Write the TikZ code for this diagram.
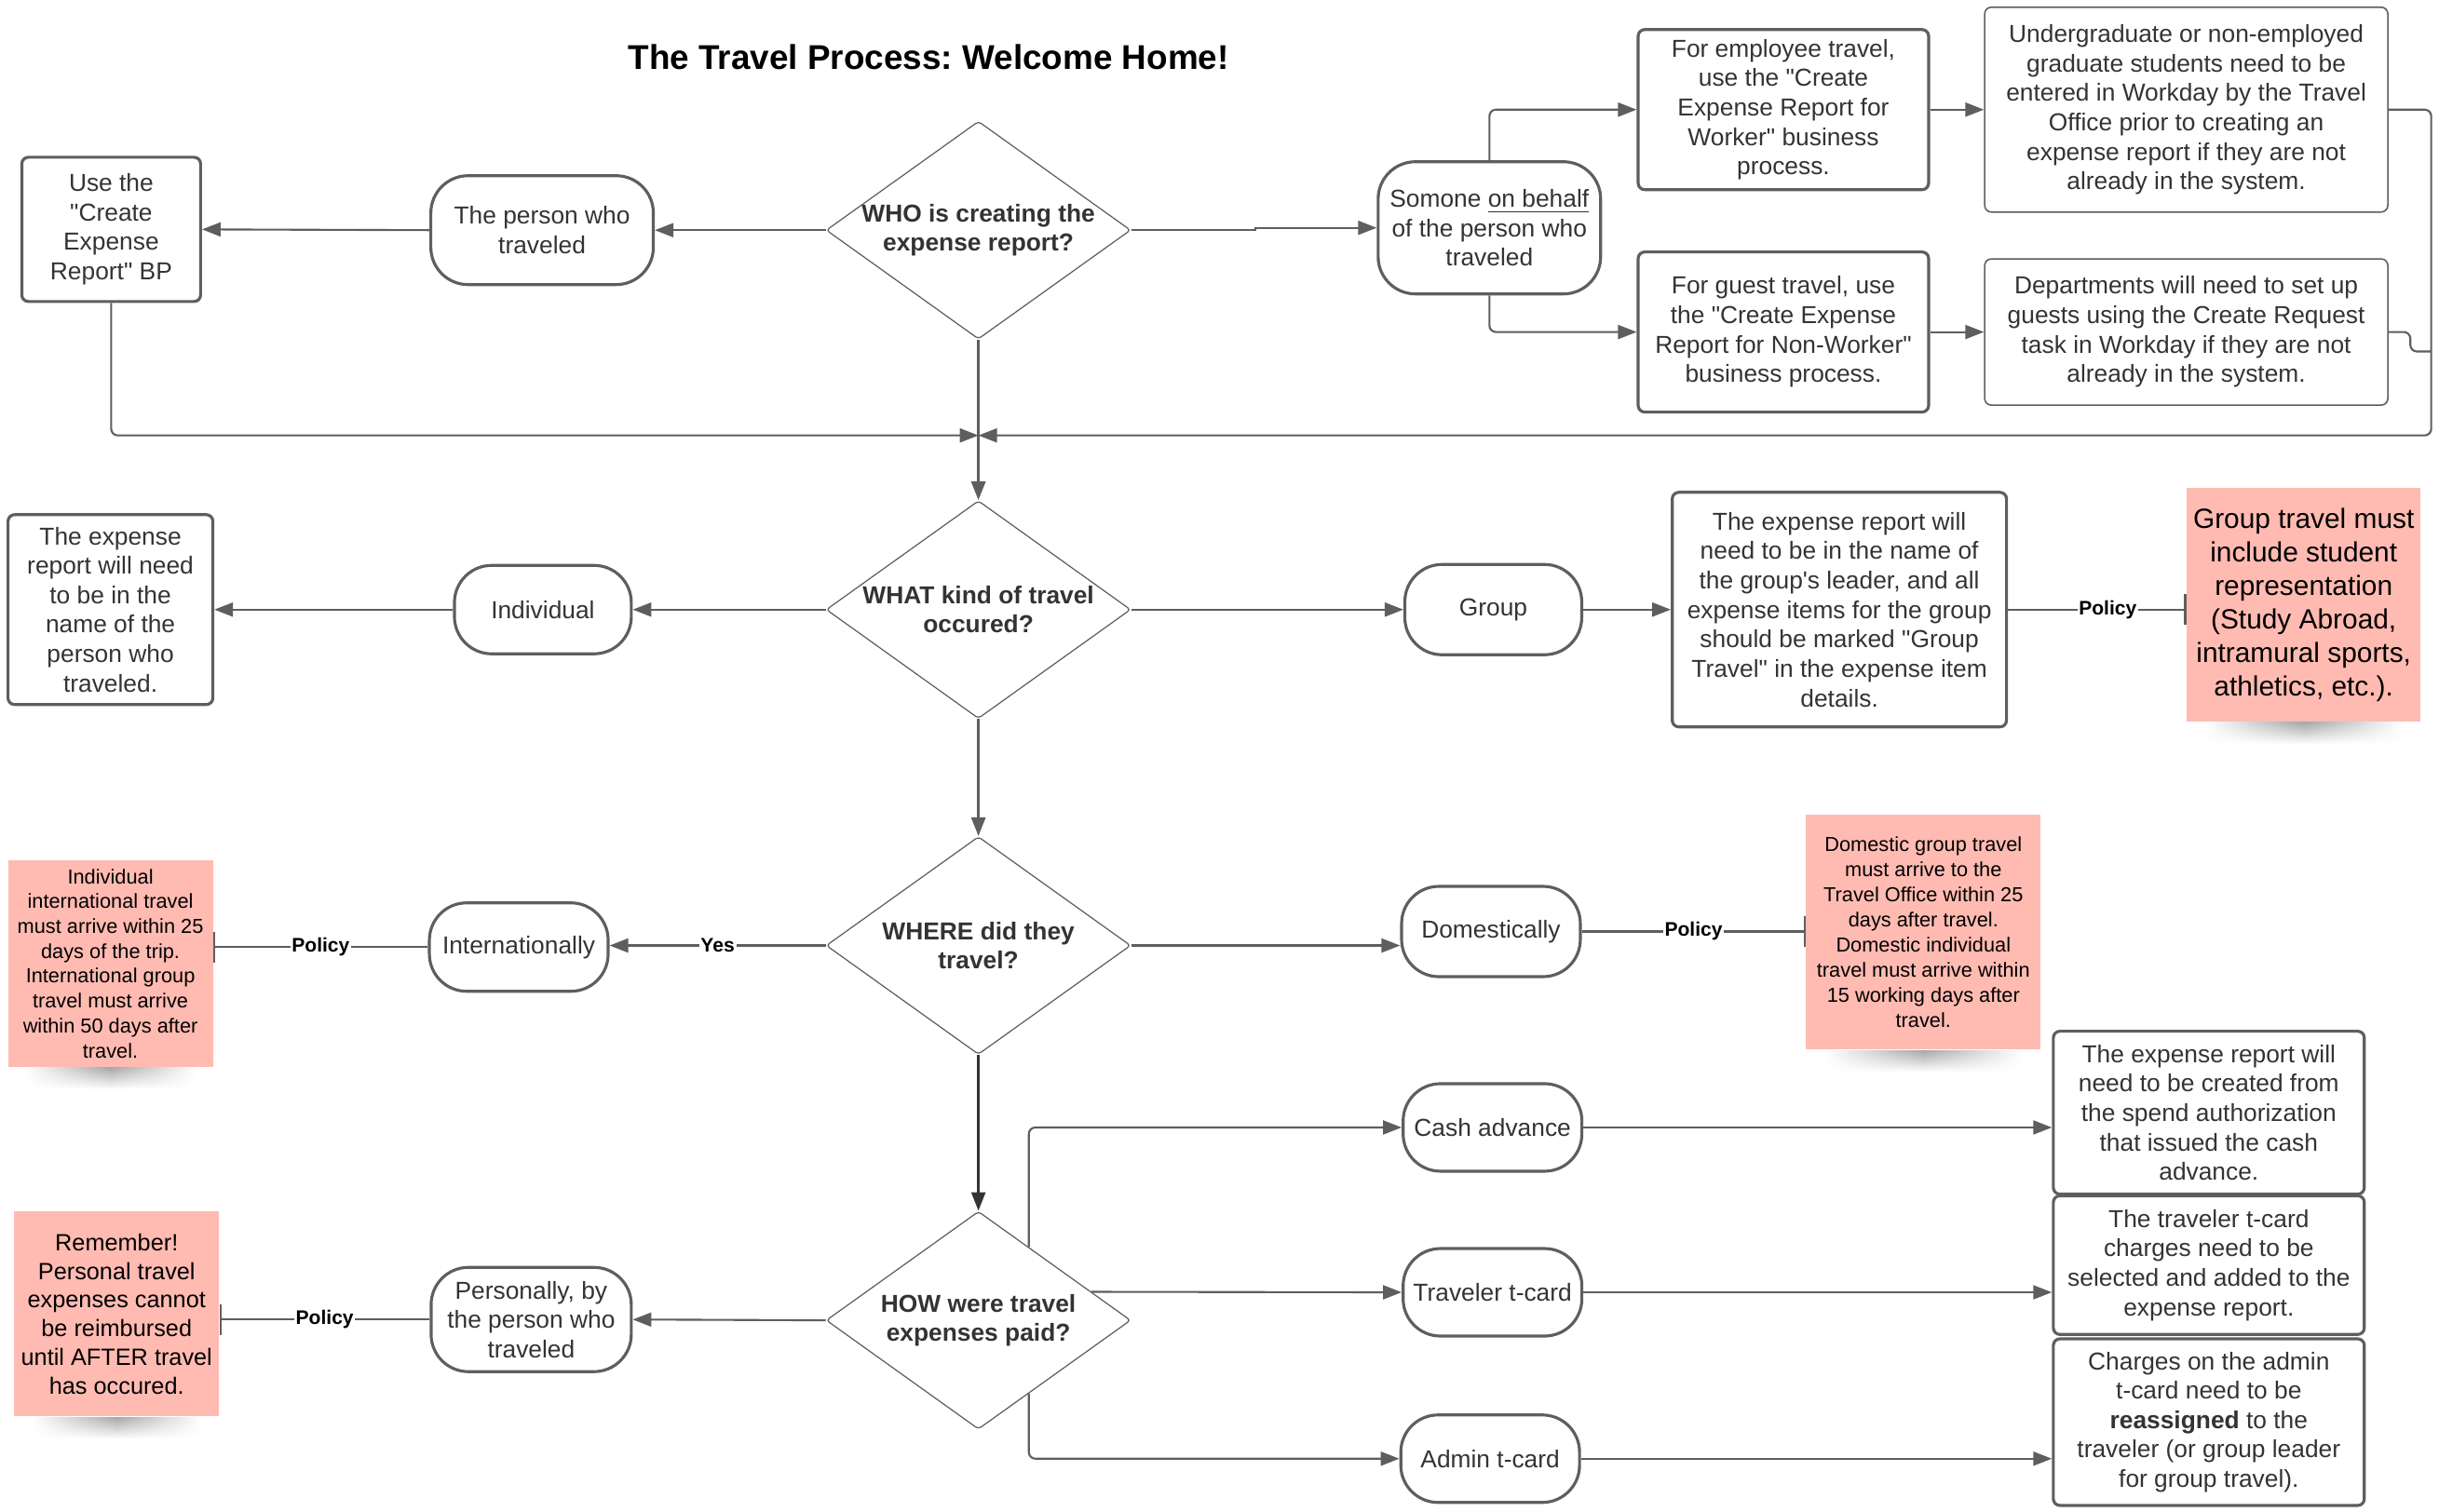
\documentclass[tikz,border=0pt]{standalone}
\usepackage{fontspec}
\setmainfont{Liberation Sans}[Ligatures=TeXOff]
\usetikzlibrary{arrows.meta,positioning,calc,shapes,fadings}
\frenchspacing

\definecolor{linegray}{RGB}{94,94,94}
\definecolor{txtgray}{RGB}{51,51,51}
\definecolor{notepink}{RGB}{255,187,178}

\begin{document}
\begin{tikzpicture}[x=0.016703cm, y=-0.016703cm,
  every node/.style={text=txtgray, align=center, font=\fontsize{7.5}{9}\selectfont},
  proc/.style={draw=linegray, line width=0.9pt, rounded corners=2pt, inner sep=1pt},
  thinproc/.style={draw=linegray, line width=0.45pt, rounded corners=2pt, inner sep=1pt},
  term/.style={draw=linegray, line width=0.9pt, rounded corners=0.4cm, inner sep=0pt},
  decide/.style={draw=linegray, line width=0.35pt, diamond, aspect=1.4, inner sep=-1pt, rounded corners=1pt,
    minimum width=3.27cm, minimum height=2.34cm, font=\bfseries\fontsize{7.5}{9}\selectfont},
  note/.style={fill=notepink, inner sep=1pt, text=black},
  arr/.style={draw=linegray, line width=0.6pt, -{Triangle[length=0.2cm,width=0.15cm]}},
  pol/.style={draw=linegray, line width=0.6pt, -{Bar[width=0.33cm]}},
  lab/.style={fill=white, inner sep=0.5pt, text=black, font=\bfseries\fontsize{6}{7}\selectfont},
  ]
  \useasboundingbox (0,0) rectangle (1568,972);

  \node[font=\bfseries\fontsize{10.5}{12}\selectfont, text=black] (title) at (597,37) {The Travel Process: Welcome Home!};

  % who is creating
  \node[decide] (d1) at (629,148) {WHO is creating the\\expense report?};
  \node[term, minimum width=2.39cm, minimum height=1.17cm] (t1) at (348.5,148) {The person who\\traveled};
  \node[proc, minimum width=1.92cm, minimum height=1.55cm] (b1) at (71.5,147.5) {Use the\\"Create\\Expense\\Report" BP};
  \node[term, minimum width=2.39cm, minimum height=1.42cm] (t2) at (957.5,146.5) {Somone \underline{on behalf}\\of the person who\\traveled};
  \node[proc, minimum width=3.12cm, minimum height=1.72cm] (b2) at (1146.5,70.5) {For employee travel,\\use the "Create\\Expense Report for\\Worker" business\\process.};
  \node[thinproc, minimum width=4.33cm, minimum height=2.2cm] (b3) at (1405.5,70.5) {Undergraduate or non-employed\\graduate students need to be\\entered in Workday by the Travel\\Office prior to creating an\\expense report if they are not\\already in the system.};
  \node[proc, minimum width=3.12cm, minimum height=1.72cm] (b4) at (1146.5,213.5) {For guest travel, use\\the "Create Expense\\Report for Non-Worker"\\business process.};
  \node[thinproc, minimum width=4.33cm, minimum height=1.57cm] (b5) at (1405.5,213.5) {Departments will need to set up\\guests using the Create Request\\task in Workday if they are not\\already in the system.};
  \coordinate (j1) at (629,280);
  \coordinate (rb) at (1563,280);
  \coordinate (hop) at (1563,226);

  % what kind
  \node[decide] (d2) at (629,392) {WHAT kind of travel\\occured?};
  \node[term, minimum width=1.9cm, minimum height=0.95cm] (t3) at (349,392) {Individual};
  \node[proc, minimum width=2.2cm, minimum height=2.04cm] (b6) at (71,392) {The expense\\report will need\\to be in the\\name of the\\person who\\traveled.};
  \node[term, minimum width=1.9cm, minimum height=0.97cm] (t4) at (960,392) {Group};
  \node[proc, minimum width=3.59cm, minimum height=2.52cm] (b7) at (1182.5,392) {The expense report will\\need to be in the name of\\the group's leader, and all\\expense items for the group\\should be marked "Group\\Travel" in the expense item\\details.};
  \node[note, minimum width=2.51cm, minimum height=2.51cm, font=\fontsize{8.5}{10.2}\selectfont] (n1) at (1481,389) {Group travel must\\include student\\representation\\(Study Abroad,\\intramural sports,\\athletics, etc.).};

  % where
  \node[decide] (d3) at (629,608) {WHERE did they\\travel?};
  \node[term, minimum width=1.92cm, minimum height=0.95cm] (t5) at (333.5,609) {Internationally};
  \node[note, minimum width=2.2cm, minimum height=2.22cm, font=\fontsize{6.2}{7.6}\selectfont] (n2) at (71,619.5) {Individual\\international travel\\must arrive within 25\\days of the trip.\\International group\\travel must arrive\\within 50 days after\\travel.};
  \node[term, minimum width=1.92cm, minimum height=0.97cm] (t6) at (958.5,599) {Domestically};
  \node[note, minimum width=2.52cm, minimum height=2.52cm, font=\fontsize{6.2}{7.7}\selectfont] (n3) at (1236.5,599.5) {Domestic group travel\\must arrive to the\\Travel Office within 25\\days after travel.\\Domestic individual\\travel must arrive within\\15 working days after\\travel.};

  % how paid
  \node[decide] (d4) at (629,849) {HOW were travel\\expenses paid?};
  \node[term, minimum width=2.15cm, minimum height=1.12cm] (t7) at (341.5,848.5) {Personally, by\\the person who\\traveled};
  \node[note, minimum width=2.2cm, minimum height=2.2cm, font=\fontsize{7.2}{8.8}\selectfont] (n4) at (75,845) {Remember!\\Personal travel\\expenses cannot\\be reimbursed\\until AFTER travel\\has occured.};
  \node[term, minimum width=1.92cm, minimum height=0.94cm] (t8) at (959.5,725) {Cash advance};
  \node[term, minimum width=1.92cm, minimum height=0.94cm] (t9) at (959.5,831) {Traveler t-card};
  \node[term, minimum width=1.92cm, minimum height=0.94cm] (t10) at (958,938) {Admin t-card};
  \node[proc, minimum width=3.34cm, minimum height=1.75cm] (b8) at (1420,715.5) {The expense report will\\need to be created from\\the spend authorization\\that issued the cash\\advance.};
  \node[proc, minimum width=3.34cm, minimum height=1.49cm] (b9) at (1420,813.5) {The traveler t-card\\charges need to be\\selected and added to the\\expense report.};
  \node[proc, minimum width=3.34cm, minimum height=1.79cm] (b10) at (1420,914.5) {Charges on the admin\\t-card need to be\\\textbf{reassigned} to the\\traveler (or group leader\\for group travel).};

  % shadows under the notes
  \foreach \n in {n1,n2,n3,n4}
    \shade[left color=white, right color=white, middle color=black!35, path fading=south]
      ($(\n.south west)+(12,0)$) rectangle ($(\n.south east)+(-12,14)$);

  % connectors
  \draw[arr] (d1.west) -- (t1.east);
  \draw[arr] (t1.west) -- (b1.east);
  \draw[arr] (d1.east) -- ++(80,0) |- (t2.west);
  \draw[arr, rounded corners=2pt] (t2.north) |- (b2.west);
  \draw[arr, rounded corners=2pt] (t2.south) |- (b4.west);
  \draw[arr] (b2.east) -- (b3.west);
  \draw[arr] (b4.east) -- (b5.west);
  \draw[arr, rounded corners=2pt] (b1.south) |- (j1);
  \draw[arr, rounded corners=2pt] (b3.east) -| (rb) -- (j1);
  \draw[draw=linegray, line width=0.6pt, rounded corners=2pt] (b5.east) -- ++(14,0) |- (hop);
  \draw[arr, line width=0.8pt] (d1.south) -- (d2.north);

  \draw[arr] (d2.west) -- (t3.east);
  \draw[arr] (t3.west) -- (b6.east);
  \draw[arr] (d2.east) -- (t4.west);
  \draw[arr] (t4.east) -- (b7.west);
  \draw[pol] (b7.east) -- node[lab, pos=0.56] {Policy} (b7.east -| n1.west);
  \draw[arr, line width=0.8pt] (d2.south) -- (d3.north);

  \draw[arr] (d3.west) -- node[lab] {Yes} (d3.west -| t5.east);
  \draw[pol] (t5.west) -- node[lab] {Policy} (t5.west -| n2.east);
  \draw[arr] (d3.east) -- (d3.east -| t6.west);
  \draw[pol] (t6.east) -- node[lab] {Policy} (t6.east -| n3.west);
  \draw[arr, draw=black!80, line width=0.8pt] (d3.south) -- (d4.north);

  \draw[arr] (d4.west) -- (t7.east);
  \draw[pol] (t7.west) -- node[lab] {Policy} (t7.west -| n4.east);
  \draw[arr, rounded corners=2pt] ($(d4.north)!0.33!(d4.east)$) |- (t8.west);
  \draw[arr] ($(d4.north)!0.74!(d4.east)$) -- (t9.west);
  \draw[arr, rounded corners=2pt] ($(d4.south)!0.33!(d4.east)$) |- (t10.west);
  \draw[arr] (t8.east) -- (t8.east -| b8.west);
  \draw[arr] (t9.east) -- (t9.east -| b9.west);
  \draw[arr] (t10.east) -- (t10.east -| b10.west);
\end{tikzpicture}
\end{document}
